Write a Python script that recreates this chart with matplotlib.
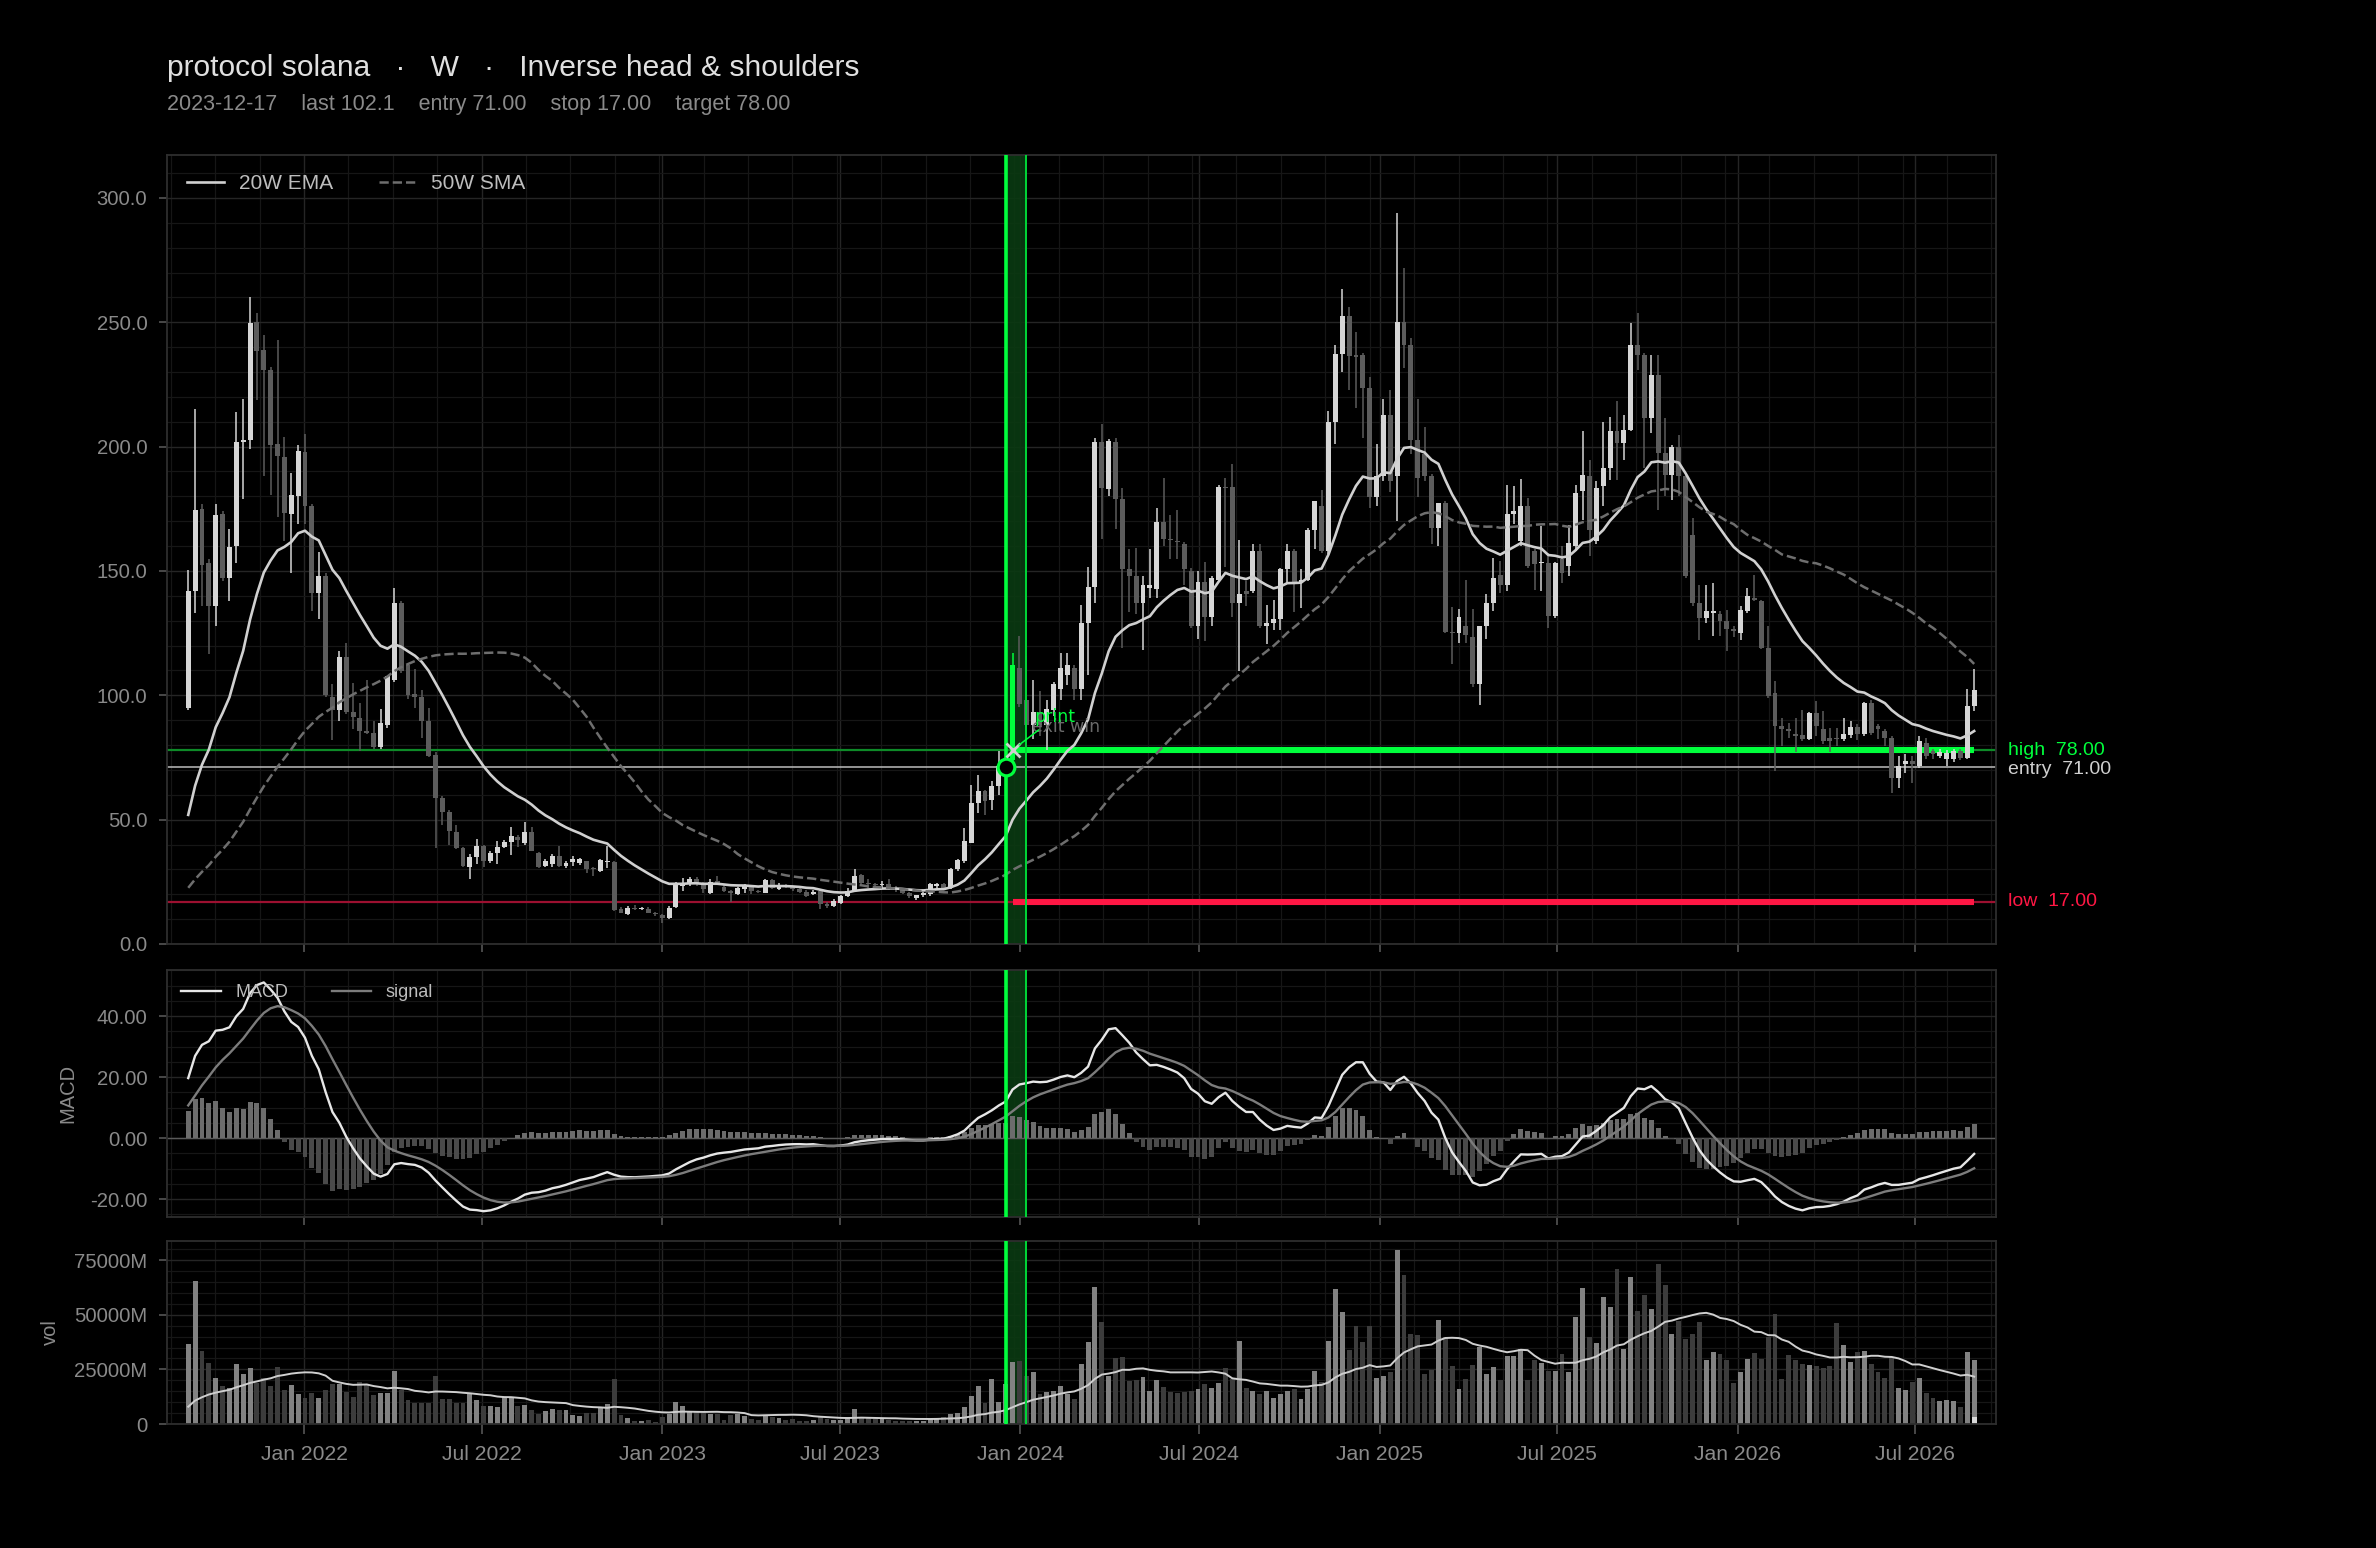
import numpy as np
import pandas as pd
import matplotlib
matplotlib.use("Agg")
import matplotlib.pyplot as plt
import matplotlib.dates as mdates
import matplotlib.transforms as mtrans
from matplotlib.ticker import AutoMinorLocator, FuncFormatter, MultipleLocator

plt.rcParams['font.family'] = ['Liberation Sans', 'DejaVu Sans']

# ---------------- data ----------------
start_date = "2021-09-05"
n_weeks = 261
event_date = "2023-12-17"
print_date = "2023-12-24"
window_end = "2024-01-07"
entry, stop, target, last_px = 71.0, 17.0, 78.0, 102.1

open_ = [95,142,175,153,136,173,147,160,202,202.7,
         250,239,231,201,196,173,180,198,176,141,
         148,99.4,94,115.6,93.3,91,85.8,85,79.4,88,
         106,137,112,100.6,99.4,89.8,76,58.8,53,45,
         38.4,31,35,39.3,33.2,36.7,39,41,43,40.7,
         45,36.7,31.5,32,35.3,31.3,33,32.7,33.3,30.6,
         29.3,33,33,14,12,14.2,14,14.2,12.6,11.8,
         10.6,15,23.3,24.6,26.2,23.6,20.6,25.3,23,21.3,
         19.9,22.2,23.3,21.3,20.6,25.8,22.2,23.6,23,22,
         21,20,21.3,16,15.3,16.6,19.3,21.3,27.6,24.6,
         24,23.6,24.3,22.6,21.7,20.6,18.6,19.5,20,23.3,
         24,22.6,30,33.3,40.7,56.8,61.4,58,63.5,71,
         74,111,98,88.1,93.1,88.1,93.9,102.5,108,111,
         102.5,129,143.6,202,183,202,178.9,150.8,148,137,
         143,142.9,169.5,163,162,160.8,150,127.7,145.7,131.3,
         146.5,183.9,183.9,137,142,142.1,158,127.7,129.2,130.6,
         150.8,158,145.7,146.5,166.6,176,158,209.9,237.2,252.4,
         236.8,236.8,223.5,179.6,188.2,212.7,188.2,250.2,240.8,202.7,
         197,188.2,167.3,177.4,125.6,124.9,127.7,123.4,104.7,127.7,
         137.1,148.5,144.5,173,162,176,157.9,153,153.2,131.8,
         155,151.9,159.9,182,188,161.9,184,191.4,206.1,201.4,
         206.8,240.9,236.9,211.5,228.9,197.4,188.7,200,188,164.6,
         137.2,131.2,133,132.5,129.8,126.5,125,133.8,139.2,137.9,
         119.1,101,87.6,86.6,84.3,83.9,82.3,93,86.3,83,
         83,82.3,84,87.4,84.3,97,87.6,85.6,83,66.9,
         72.2,73.6,71.6,80.9,77.6,75.6,74.3,74.3,77.6,74.9,
         95.7]

high = [150.5,215,177,155,177,174,167,214,219,260,
        253.6,245,232,243,204,189.5,200.6,205,177,157.8,
        149,104.6,118,121,105,96.8,106,89.8,94.5,107.6,
        143,138,113,110.7,102,95,77,59.5,54,48,
        39,36,42.4,40,37.5,41.4,42,47,44,49,
        47,37,34,36,39.4,33.5,35.3,34.6,33.5,31,
        34,39.4,33.5,15,15.3,15.5,14.8,15,13,12,
        15.3,24.8,26.6,27,27,25,26,27.4,24,21.8,
        23,24,23.6,21.8,26,26,24.5,24,23.5,22.4,
        21.6,21.6,22,17,18,19.8,22.6,30.3,28,26,
        24.4,25.5,26,23.3,22.3,21,19.8,21,24.6,24.6,
        24.6,30.6,34,46.7,64,68,62,65.5,77.5,79,
        117,124,116,106,101.8,98.2,105.4,116.9,117,112,
        136.4,151.5,203.4,209.1,203,203.5,183.2,158.7,159.4,147.9,
        158.7,175.3,187.5,172.4,174.6,161.5,151,150,153.6,148,
        184.6,187.5,193,162.3,146,160.8,160.8,136.4,138.5,151,
        160.8,159,150.8,167.3,178.1,182.5,214.2,240.8,263.2,256,
        246,237.5,227.9,201.2,219.2,222.8,293.9,271.8,243.7,219.2,
        207.7,189,177.4,178,135.6,134.9,146.5,134.9,128,140.7,
        155.1,153.9,184.7,184,187,179.3,159,168,157.2,153.5,
        160,168.6,184.7,206.1,194.7,186,210.1,212.1,218.2,212.8,
        249.6,253.6,237.5,236.9,236.9,211.5,200.8,204.8,189,171.3,
        144.5,144.5,145,134,134.5,128,135.8,143.2,148.5,138.5,
        127.8,105.7,91,88.9,91,94.1,93.3,97.7,93.7,87,
        87,91,89.6,88.3,97.3,98.3,88.5,86.5,83.5,75.6,
        76.3,75.5,83.6,83,78.3,78.3,78,78.6,78.6,102.4,
        110.4]

low = [94,133,136,116.5,128,146,138,153,179,199,
       218.7,188,180.6,171.7,162,149,169,169,134,130.8,
       99.4,82,89.8,92.4,86.3,77.6,84.6,78.5,78.5,87,
       105.5,109,98.5,95,82.9,75,38.4,48,40,38,
       31,26.2,32,31,32.5,32.3,38.5,35.8,39,39.8,
       37.2,30.5,30.8,31,31,30.5,31.3,31.9,28.6,27.5,
       28.8,30.6,13.3,12.4,11.5,13.5,13.5,12.3,11.3,8.6,
       10,14.6,21.3,23.3,23.5,20.3,20,23.6,21,17,
       19.5,20.6,20,20.5,20.3,22,21.6,22.4,21.5,20.5,
       18.8,19.5,14,14.6,15,16.2,18.9,20.9,24,22.6,
       22.9,22.6,21.9,21,20,18.5,17.5,19,19.4,22.6,
       22,22,29.4,32.6,40.5,52.7,52,54,60,64,
       72,95.3,87.4,82.3,83.7,78,91.7,98.2,104,98,
       98.2,108,137,163,180,167,119,133.5,132.8,118.4,
       139.2,139.2,160.1,155,155,144.3,127,122.7,122,127.7,
       146,151.5,131.3,109.7,136,141,127,120.5,126.3,126.3,
       145,133.5,135,146,158.7,157.3,157,201.2,230,222.8,
       215.6,203.4,175.3,176,186,181.8,170.2,231.5,196.9,179.6,
       186,160.8,160,124.9,112.6,121.2,121.2,103.2,96,122.7,
       134,141.2,141.9,169,160,151,142.5,141.9,127.1,131,
       145,147.9,157.9,170.6,155.9,161,176,186.7,186.7,194.7,
       206.1,230.9,191.4,205.4,174.6,180,178.7,180,147,135.8,
       122.4,129.1,124,123.8,117.8,123.5,122.4,133,138,118.5,
       99,69.6,79.6,83,77,81.6,82,83.6,80.3,77,
       79.6,81.5,83,82,83.6,84,82.3,79.6,60.9,62.9,
       68.9,64.9,70.9,74.3,74.3,74.8,71.6,73,74,74.5,
       93.7]

close = [142,174.7,152.5,136,172.6,147,159.5,202,202.5,249.7,
         238.6,231,200.6,196.4,173.4,180.4,198.4,176,141,148,
         100.3,94.2,115.6,93.3,91.2,85.8,85,79.4,89,107.6,
         137.2,109.9,100.3,99.4,89.8,75.5,58.8,53.2,45.4,38.4,
         31.5,35,39.3,33.2,36.7,39,41,43.6,42,45,
         37.5,31,33.2,35.5,31.3,32.7,34,34,30,30,
         33.7,33.5,13.6,12.6,14.6,14,14.2,12.6,12,10.6,
         14.6,24.4,24,26.2,24.6,22,24.9,24,21.3,20.6,
         22.6,23.3,21.3,21,25.7,22.6,23.6,23,22,21,
         19.3,21,16,15.3,17.3,19.3,21.3,27.3,24.6,24,
         23.6,24.3,23,21.7,20.6,19.3,19.5,20.6,24,24,
         22.6,30,33.7,41.4,56.8,61.4,57.4,63.5,71.5,74,
         112,96.7,88.1,93.1,88.1,94.6,104.7,111.1,112,102.5,
         129.2,143.6,201.9,183.2,202.4,178.9,150.8,147.9,137.1,144.3,
         144.3,169.5,163,162.3,161.5,150.8,127.7,145.7,131.3,147.2,
         183.9,183.2,137.1,140.7,140.7,158,127.7,129.2,130.6,150.8,
         158,145.7,146.5,166.6,178.1,158,209.9,237.2,252.4,236.5,
         236.2,223.5,179.6,188.2,212.7,186.1,250.2,240.8,202.7,187.5,
         188,167.3,177.4,125.6,124.9,131.3,124.1,104.7,127.7,137.1,
         147.2,144.5,173,174,176,151.9,152.6,153.5,131.8,153.2,
         149,161.3,181.3,188.7,166.6,183.4,191.4,206.1,201.4,206.8,
         240.9,236.9,211.5,228.9,197.4,188.7,200,188,147.9,137.2,
         131.2,133.8,133.7,129.8,126.5,125.8,134.5,139.8,138.5,119.1,
         99.7,87.6,86.6,85.6,83.6,82.3,92.7,87.6,81.6,81.6,
         82.3,84.3,87.4,84.3,97,85,86.6,83,66.9,71.6,
         73.6,72.2,81.6,75.6,76.3,77.3,76.9,77.6,74.9,95.7,
         102.1]

# weekly volume, millions
volume = [36700,65300,33600,28100,21100,17500,16400,27700,23100,25800,
          18750,21100,17500,26250,15600,18000,13750,11900,14000,11900,
          15600,18400,18400,14700,12500,19200,17700,13300,14000,14000,
          24500,15600,10900,9800,9400,9700,22200,11400,11400,9400,
          9800,13750,10900,8100,8100,7800,12500,12500,8300,8600,
          6250,4700,5800,7000,6600,6250,3900,3800,4900,4900,
          7700,9200,20700,4300,2800,1200,1500,1800,800,3100,
          4600,10000,8400,6100,5800,4900,4600,4600,1800,4300,
          4600,3800,2300,1800,4300,3100,2800,1800,2300,1500,
          1200,1800,3400,2300,1800,1800,3400,6900,3100,2800,
          2300,2300,1800,1500,1500,1500,1500,1200,2300,2300,
          3100,4600,4900,8000,12600,17200,9500,20700,10000,18100,
          28400,28700,22200,24000,13800,14600,15300,17600,13800,11500,
          27300,37600,62900,46800,22200,30400,30700,19900,20200,21500,
          15000,20200,16900,14600,14100,14600,15300,16100,18100,16600,
          18700,25800,20700,38000,16600,15300,13800,15300,12000,13800,
          15000,16100,11500,16100,24200,19200,38000,61700,51400,34100,
          44800,37600,44800,21200,21800,23800,79800,68300,41400,40600,
          22700,24800,47600,39900,26400,16100,20700,26800,35300,22700,
          26100,20200,31000,31000,34500,20200,29500,27900,24200,24500,
          31900,23800,49100,62100,39900,37100,58300,53700,70900,34500,
          67500,51800,59100,52500,73300,63700,41400,47200,38700,41100,
          46800,29500,33000,31900,29100,18700,23800,29900,32500,29900,
          39900,50300,20700,31400,29100,27600,26800,26400,25800,26400,
          46300,36000,28400,33000,33400,27300,23800,21100,30500,16400,
          15600,19200,21100,14100,11700,10500,10900,10500,7800,33100,
          29400]
partial_vol = [3100]

# history before the visible window (feeds the moving averages)
pre_close = [3.5,3.0,2.9,2.6,2.4,1.6,1.5,1.6,1.8,2.1,2.3,1.9,1.7,1.6,1.6,1.5,
             2.0,3.0,3.5,4.0,6.0,8.0,13,12,14,15,16,19,24,28,32,36,
             40,45,35,30,36,37,30,33,33,30,28,30,37,44,60,75,95]
pre_vol = [9000,3000,3000,4000,4000,4000,4500,4500,4500,5000,
           5000,5000,5500,5500,6000,6500,7500,15000,20000]

# ---------------- derived ----------------
dates = pd.date_range(start_date, periods=n_weeks, freq="7D")
x = mdates.date2num(dates)
o = np.array(open_, float); h = np.array(high, float)
l = np.array(low, float); c = np.array(close, float)
v = np.array(volume, float)
np_ = len(pre_close)

allc = pd.Series(np.r_[pre_close, c])
ema20 = allc.ewm(span=20, adjust=False).mean().values[np_:]
sma50 = allc.rolling(50, min_periods=1).mean().values[np_:]
ema12 = allc.ewm(span=12, adjust=False).mean()
ema26 = allc.ewm(span=26, adjust=False).mean()
macd_full = ema12 - ema26
sig_full = macd_full.ewm(span=9, adjust=False).mean()
macd = macd_full.values[np_:]
signal = sig_full.values[np_:]
hist = macd - signal
allv = pd.Series(np.r_[pre_vol, v])
vol_ma = allv.rolling(20, min_periods=1).mean().values[len(pre_vol):]

ev = mdates.date2num(pd.Timestamp(event_date))
pr = mdates.date2num(pd.Timestamp(print_date))
we = mdates.date2num(pd.Timestamp(window_end))

# ---------------- style ----------------
BG = "#000000"
GRID_MAJ = "#252525"
GRID_MIN = "#161616"
SPINE = "#2e2e2e"
TICK = "#8a8a8a"
UP = "#d6d6d6"
DOWN = "#5c5c5c"
BRIGHT = "#00ff3c"
TGT_THIN = "#0e8a28"
RED = "#ff1744"
RED_THIN = "#9c1030"

fig = plt.figure(figsize=(23.76, 15.48), dpi=100, facecolor=BG)
L, W = 0.0702, 0.7697
ax = fig.add_axes([L, 0.3902, W, 0.5099])
axm = fig.add_axes([L, 0.2138, W, 0.1596], sharex=ax)
axv = fig.add_axes([L, 0.0801, W, 0.1182], sharex=ax)

span = x[-1] - x[0]
for a in (ax, axm, axv):
    a.set_facecolor(BG)
    for s in a.spines.values():
        s.set_color(SPINE)
        s.set_linewidth(1.3)
    a.xaxis.set_major_locator(mdates.MonthLocator(bymonth=[1, 7]))
    a.xaxis.set_major_formatter(mdates.DateFormatter("%b %Y"))
    a.xaxis.set_minor_locator(AutoMinorLocator(4))
    a.yaxis.set_minor_locator(AutoMinorLocator())
    a.grid(which="major", color=GRID_MAJ, lw=1.0, zorder=0)
    a.grid(which="minor", color=GRID_MIN, lw=0.9, zorder=0)
    a.set_axisbelow(True)
    a.tick_params(axis="both", which="major", colors="#555555", labelcolor=TICK,
                  length=6, width=1.2, pad=8)
    a.tick_params(axis="y", which="major", labelsize=14.6)
    a.tick_params(axis="x", which="major", labelsize=15.2)
    a.tick_params(axis="both", which="minor", length=0)
    # window band + event line
    a.axvspan(ev, we, color="#0a3a12", alpha=0.9, zorder=0.6, lw=0)
    a.axvline(ev, color=BRIGHT, lw=2.6, zorder=4)
    a.axvline(we, color="#00d838", lw=1.4, zorder=4)
ax.set_xlim(x[0] - 0.012 * span, x[-1] + 0.012 * span)
plt.setp(ax.get_xticklabels(), visible=False)
plt.setp(axm.get_xticklabels(), visible=False)

# ---------------- price panel ----------------
up = c >= o
cols = np.where(up, UP, DOWN).astype(object)
pi = int(np.argmin(np.abs(x - pr)))
cols[pi] = BRIGHT
ax.vlines(x, np.minimum(l, np.minimum(o, c)), np.maximum(h, np.maximum(o, c)),
          colors=list(cols), lw=1.1, zorder=2)
ax.bar(x, np.maximum(np.abs(c - o), 0.5), bottom=np.minimum(o, c), width=5.0,
       color=list(cols), lw=0, zorder=2.1)

ax.plot(x, ema20, color="#d0d0d0", lw=1.9, zorder=3, label="20W EMA")
ax.plot(x, sma50, color="#6e6e6e", lw=1.8, ls="--", zorder=3, label="50W SMA")

ax.axhline(target, color=TGT_THIN, lw=1.6, zorder=1.5)
ax.axhline(entry, color="#bdbdbd", lw=1.1, zorder=1.5)
ax.axhline(stop, color=RED_THIN, lw=1.6, zorder=1.5)
ax.hlines(target, pr, x[-1], color=BRIGHT, lw=4.4, zorder=1.8)
ax.hlines(stop, pr, x[-1], color=RED, lw=4.4, zorder=1.8)

ax.plot([ev], [entry], marker="o", ms=12, mfc=BG, mec=BRIGHT, mew=2.3, zorder=6, ls="none")
ax.plot([pr], [target], marker="x", ms=10, mec="#d0d0d0", mew=2.0, zorder=6, ls="none")
ax.annotate("exit win", xy=(pr, target), xytext=(14, 13), textcoords="offset points",
            color="#6a6a6a", fontsize=12.5, family=["DejaVu Sans"], zorder=6)
ax.annotate("print", xy=(pr, target), xytext=(16, 20), textcoords="offset points",
            color=BRIGHT, fontsize=12.5, family=["DejaVu Sans"], zorder=7,
            arrowprops=dict(arrowstyle="-", color=BRIGHT, lw=1.1, shrinkA=1, shrinkB=6))

tr = mtrans.blended_transform_factory(ax.transAxes, ax.transData)
ax.text(1.007, target, f"high  {target:.2f}", transform=tr, color=BRIGHT,
        fontsize=14, va="center", ha="left")
ax.text(1.007, entry - 0.8, f"entry  {entry:.2f}", transform=tr, color="#cfcfcf",
        fontsize=14, va="center", ha="left")
ax.text(1.007, stop, f"low  {stop:.2f}", transform=tr, color=RED,
        fontsize=14, va="center", ha="left")

ax.set_ylim(0, max(high) * 1.08)
ax.yaxis.set_major_locator(MultipleLocator(50))
ax.yaxis.set_major_formatter(FuncFormatter(lambda val, p: f"{val:.1f}"))
ax.legend(loc="upper left", ncol=2, frameon=False, fontsize=15,
          labelcolor="#bdbdbd", handlelength=1.8, handletextpad=0.7,
          columnspacing=2.2, borderaxespad=0.55)

# ---------------- MACD panel ----------------
axm.bar(x, hist, width=5.0, color=np.where(hist >= 0, "#6c6c6c", "#4a4a4a"), lw=0, zorder=2)
axm.axhline(0, color="#5a5a5a", lw=1.0, zorder=1.5)
axm.plot(x, macd, color="#e6e6e6", lw=1.7, zorder=3, label="MACD")
axm.plot(x, signal, color="#7c7c7c", lw=1.7, zorder=3, label="signal")
lo, hi = min(macd.min(), signal.min(), hist.min()), max(macd.max(), signal.max(), hist.max())
axm.set_ylim(lo * 1.08, hi * 1.08)
axm.yaxis.set_major_locator(MultipleLocator(20))
axm.yaxis.set_major_formatter(FuncFormatter(lambda val, p: f"{val:.2f}"))
axm.set_ylabel("MACD", color=TICK, fontsize=14.5)
axm.yaxis.set_label_coords(-0.0489, 0.5)
axm.legend(loc="upper left", ncol=2, frameon=False, fontsize=13, labelcolor="#bdbdbd",
           handlelength=2.2, columnspacing=2.4, borderaxespad=0.4)

# ---------------- volume panel ----------------
vcols = np.where(up, "#828282", "#3c3c3c")
axv.bar(x, v, width=5.0, color=vcols, lw=0, zorder=2)
axv.bar(x[-1:], partial_vol, width=5.0, color="#d8d8d8", lw=0, zorder=2.2)
axv.plot(x, vol_ma, color="#cfcfcf", lw=1.4, zorder=3)
axv.set_ylim(0, max(volume) * 1.05)
axv.yaxis.set_major_locator(MultipleLocator(25000))
axv.yaxis.set_major_formatter(FuncFormatter(lambda val, p: "0" if val == 0 else f"{val:.0f}M"))
axv.set_ylabel("vol", color=TICK, fontsize=14.5)
axv.yaxis.set_label_coords(-0.0586, 0.5)
axv.tick_params(axis="x", which="major", length=7)

# ---------------- titles ----------------
fig.text(L, 1 - 76 / 1548, "protocol solana   ·   W   ·   Inverse head & shoulders",
         color="#e0e0e0", fontsize=21.6, va="baseline", ha="left")
fig.text(L, 1 - 110 / 1548,
         f"{event_date}    last {last_px}    entry {entry:.2f}    stop {stop:.2f}    target {target:.2f}",
         color="#8a8a8a", fontsize=15.5, va="baseline", ha="left")

fig.savefig("out.png", dpi=100, facecolor=BG)
